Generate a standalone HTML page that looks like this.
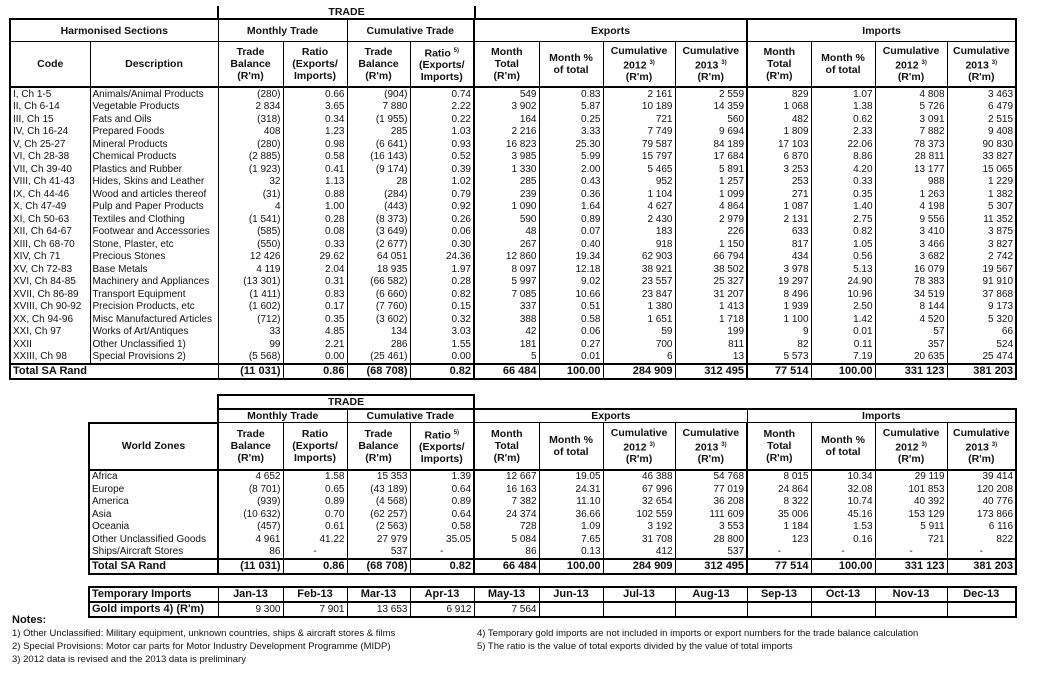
<!DOCTYPE html>
<html><head><meta charset="utf-8"><style>
body{margin:0;width:1039px;height:680px;background:#fff;position:relative;overflow:hidden;font-family:"Liberation Sans",Arial,sans-serif;color:#111}
table{position:absolute;border-collapse:collapse;table-layout:fixed;font-size:10px}
td{border-left:1px solid #000;border-right:1px solid #000;padding:0 2px;text-align:right;white-space:nowrap;overflow:hidden;line-height:11px}
td.l{text-align:left}
tr.d td{height:12.5px;padding-top:0;padding-bottom:0}
tr.h td,tr.s td{font-weight:bold;text-align:center;border:1px solid #000;font-size:10.5px;line-height:12px}
tr.h td{border-bottom:2px solid #000}
tr.t td{font-weight:bold;font-size:11px;border-top:2px solid #000;border-bottom:2px solid #000;height:13px}
td.n{border:none!important}
.thick{border-left:2px solid #000!important}
.abs{position:absolute}
.note{position:absolute;font-size:9.5px;left:12px}
sup{font-size:6px}
</style></head><body>

<div class="abs" style="left:217px;top:6px;width:255px;height:12px;border-left:2px solid #000;border-right:2px solid #000;text-align:center;font-weight:bold;font-size:10.5px;line-height:12px">TRADE</div>

<table style="left:9px;top:18px;width:1006px;border:2px solid #000">
<colgroup><col style="width:80px"><col style="width:128px"><col style="width:65px"><col style="width:64px"><col style="width:63px"><col style="width:64px"><col style="width:65px"><col style="width:64px"><col style="width:72px"><col style="width:72px"><col style="width:64px"><col style="width:64px"><col style="width:72px"><col style="width:69px"></colgroup>
<tr class="s"><td colspan="2" style="height:21px">Harmonised Sections</td><td colspan="2">Monthly Trade</td><td colspan="2">Cumulative Trade</td><td colspan="4" class="thick">Exports</td><td colspan="4" class="thick">Imports</td></tr>
<tr class="h"><td style="height:44px">Code</td><td>Description</td><td>Trade<br>Balance<br>(R'm)</td><td>Ratio<br>(Exports/<br>Imports)</td><td>Trade<br>Balance<br>(R'm)</td><td>Ratio <sup>5)</sup><br>(Exports/<br>Imports)</td><td class="thick">Month<br>Total<br>(R'm)</td><td>Month %<br>of total</td><td>Cumulative<br>2012 <sup>3)</sup><br>(R'm)</td><td>Cumulative<br>2013 <sup>3)</sup><br>(R'm)</td><td class="thick">Month<br>Total<br>(R'm)</td><td>Month %<br>of total</td><td>Cumulative<br>2012 <sup>3)</sup><br>(R'm)</td><td>Cumulative<br>2013 <sup>3)</sup><br>(R'm)</td></tr>
<tr class="d"><td class="l">I, Ch 1-5</td><td class="l">Animals/Animal Products</td><td>(280)</td><td>0.66</td><td>(904)</td><td>0.74</td><td class="thick">549</td><td>0.83</td><td>2 161</td><td>2 559</td><td class="thick">829</td><td>1.07</td><td>4 808</td><td>3 463</td></tr>
<tr class="d"><td class="l">II, Ch 6-14</td><td class="l">Vegetable Products</td><td>2 834</td><td>3.65</td><td>7 880</td><td>2.22</td><td class="thick">3 902</td><td>5.87</td><td>10 189</td><td>14 359</td><td class="thick">1 068</td><td>1.38</td><td>5 726</td><td>6 479</td></tr>
<tr class="d"><td class="l">III, Ch 15</td><td class="l">Fats and Oils</td><td>(318)</td><td>0.34</td><td>(1 955)</td><td>0.22</td><td class="thick">164</td><td>0.25</td><td>721</td><td>560</td><td class="thick">482</td><td>0.62</td><td>3 091</td><td>2 515</td></tr>
<tr class="d"><td class="l">IV, Ch 16-24</td><td class="l">Prepared Foods</td><td>408</td><td>1.23</td><td>285</td><td>1.03</td><td class="thick">2 216</td><td>3.33</td><td>7 749</td><td>9 694</td><td class="thick">1 809</td><td>2.33</td><td>7 882</td><td>9 408</td></tr>
<tr class="d"><td class="l">V, Ch 25-27</td><td class="l">Mineral Products</td><td>(280)</td><td>0.98</td><td>(6 641)</td><td>0.93</td><td class="thick">16 823</td><td>25.30</td><td>79 587</td><td>84 189</td><td class="thick">17 103</td><td>22.06</td><td>78 373</td><td>90 830</td></tr>
<tr class="d"><td class="l">VI, Ch 28-38</td><td class="l">Chemical Products</td><td>(2 885)</td><td>0.58</td><td>(16 143)</td><td>0.52</td><td class="thick">3 985</td><td>5.99</td><td>15 797</td><td>17 684</td><td class="thick">6 870</td><td>8.86</td><td>28 811</td><td>33 827</td></tr>
<tr class="d"><td class="l">VII, Ch 39-40</td><td class="l">Plastics and Rubber</td><td>(1 923)</td><td>0.41</td><td>(9 174)</td><td>0.39</td><td class="thick">1 330</td><td>2.00</td><td>5 465</td><td>5 891</td><td class="thick">3 253</td><td>4.20</td><td>13 177</td><td>15 065</td></tr>
<tr class="d"><td class="l">VIII, Ch 41-43</td><td class="l">Hides, Skins and Leather</td><td>32</td><td>1.13</td><td>28</td><td>1.02</td><td class="thick">285</td><td>0.43</td><td>952</td><td>1 257</td><td class="thick">253</td><td>0.33</td><td>988</td><td>1 229</td></tr>
<tr class="d"><td class="l">IX, Ch 44-46</td><td class="l">Wood and articles thereof</td><td>(31)</td><td>0.88</td><td>(284)</td><td>0.79</td><td class="thick">239</td><td>0.36</td><td>1 104</td><td>1 099</td><td class="thick">271</td><td>0.35</td><td>1 263</td><td>1 382</td></tr>
<tr class="d"><td class="l">X, Ch 47-49</td><td class="l">Pulp and Paper Products</td><td>4</td><td>1.00</td><td>(443)</td><td>0.92</td><td class="thick">1 090</td><td>1.64</td><td>4 627</td><td>4 864</td><td class="thick">1 087</td><td>1.40</td><td>4 198</td><td>5 307</td></tr>
<tr class="d"><td class="l">XI, Ch 50-63</td><td class="l">Textiles and Clothing</td><td>(1 541)</td><td>0.28</td><td>(8 373)</td><td>0.26</td><td class="thick">590</td><td>0.89</td><td>2 430</td><td>2 979</td><td class="thick">2 131</td><td>2.75</td><td>9 556</td><td>11 352</td></tr>
<tr class="d"><td class="l">XII, Ch 64-67</td><td class="l">Footwear and Accessories</td><td>(585)</td><td>0.08</td><td>(3 649)</td><td>0.06</td><td class="thick">48</td><td>0.07</td><td>183</td><td>226</td><td class="thick">633</td><td>0.82</td><td>3 410</td><td>3 875</td></tr>
<tr class="d"><td class="l">XIII, Ch 68-70</td><td class="l">Stone, Plaster, etc</td><td>(550)</td><td>0.33</td><td>(2 677)</td><td>0.30</td><td class="thick">267</td><td>0.40</td><td>918</td><td>1 150</td><td class="thick">817</td><td>1.05</td><td>3 466</td><td>3 827</td></tr>
<tr class="d"><td class="l">XIV, Ch 71</td><td class="l">Precious Stones</td><td>12 426</td><td>29.62</td><td>64 051</td><td>24.36</td><td class="thick">12 860</td><td>19.34</td><td>62 903</td><td>66 794</td><td class="thick">434</td><td>0.56</td><td>3 682</td><td>2 742</td></tr>
<tr class="d"><td class="l">XV, Ch 72-83</td><td class="l">Base Metals</td><td>4 119</td><td>2.04</td><td>18 935</td><td>1.97</td><td class="thick">8 097</td><td>12.18</td><td>38 921</td><td>38 502</td><td class="thick">3 978</td><td>5.13</td><td>16 079</td><td>19 567</td></tr>
<tr class="d"><td class="l">XVI, Ch 84-85</td><td class="l">Machinery and Appliances</td><td>(13 301)</td><td>0.31</td><td>(66 582)</td><td>0.28</td><td class="thick">5 997</td><td>9.02</td><td>23 557</td><td>25 327</td><td class="thick">19 297</td><td>24.90</td><td>78 383</td><td>91 910</td></tr>
<tr class="d"><td class="l">XVII, Ch 86-89</td><td class="l">Transport Equipment</td><td>(1 411)</td><td>0.83</td><td>(6 660)</td><td>0.82</td><td class="thick">7 085</td><td>10.66</td><td>23 847</td><td>31 207</td><td class="thick">8 496</td><td>10.96</td><td>34 519</td><td>37 868</td></tr>
<tr class="d"><td class="l">XVIII, Ch 90-92</td><td class="l">Precision Products, etc</td><td>(1 602)</td><td>0.17</td><td>(7 760)</td><td>0.15</td><td class="thick">337</td><td>0.51</td><td>1 380</td><td>1 413</td><td class="thick">1 939</td><td>2.50</td><td>8 144</td><td>9 173</td></tr>
<tr class="d"><td class="l">XX, Ch 94-96</td><td class="l">Misc Manufactured Articles</td><td>(712)</td><td>0.35</td><td>(3 602)</td><td>0.32</td><td class="thick">388</td><td>0.58</td><td>1 651</td><td>1 718</td><td class="thick">1 100</td><td>1.42</td><td>4 520</td><td>5 320</td></tr>
<tr class="d"><td class="l">XXI, Ch 97</td><td class="l">Works of Art/Antiques</td><td>33</td><td>4.85</td><td>134</td><td>3.03</td><td class="thick">42</td><td>0.06</td><td>59</td><td>199</td><td class="thick">9</td><td>0.01</td><td>57</td><td>66</td></tr>
<tr class="d"><td class="l">XXII</td><td class="l">Other Unclassified 1)</td><td>99</td><td>2.21</td><td>286</td><td>1.55</td><td class="thick">181</td><td>0.27</td><td>700</td><td>811</td><td class="thick">82</td><td>0.11</td><td>357</td><td>524</td></tr>
<tr class="d"><td class="l">XXIII, Ch 98</td><td class="l">Special Provisions 2)</td><td>(5 568)</td><td>0.00</td><td>(25 461)</td><td>0.00</td><td class="thick">5</td><td>0.01</td><td>6</td><td>13</td><td class="thick">5 573</td><td>7.19</td><td>20 635</td><td>25 474</td></tr>
<tr class="t"><td class="l" colspan="2">Total SA Rand</td><td>(11 031)</td><td>0.86</td><td>(68 708)</td><td>0.82</td><td class="thick">66 484</td><td>100.00</td><td>284 909</td><td>312 495</td><td class="thick">77 514</td><td>100.00</td><td>331 123</td><td>381 203</td></tr>
</table>

<table style="left:88px;top:394px;width:927px">
<colgroup><col style="width:129px"><col style="width:65px"><col style="width:64px"><col style="width:63px"><col style="width:64px"><col style="width:65px"><col style="width:64px"><col style="width:72px"><col style="width:72px"><col style="width:64px"><col style="width:64px"><col style="width:72px"><col style="width:69px"></colgroup>
<tr class="s"><td class="n" style="height:12px"></td><td colspan="4" style="border:2px solid #000">TRADE</td><td class="n" colspan="8"></td></tr>
<tr class="s"><td class="n" style="height:12px"></td><td colspan="2" style="border-left:2px solid #000">Monthly Trade</td><td colspan="2" style="border-right:2px solid #000">Cumulative Trade</td><td colspan="4" style="border-top:2px solid #000">Exports</td><td colspan="4" style="border-top:2px solid #000;border-right:2px solid #000">Imports</td></tr>
<tr class="h"><td style="height:45px;border-left:2px solid #000;border-top:2px solid #000">World Zones</td><td style="border-left:2px solid #000">Trade<br>Balance<br>(R'm)</td><td>Ratio<br>(Exports/<br>Imports)</td><td>Trade<br>Balance<br>(R'm)</td><td>Ratio <sup>5)</sup><br>(Exports/<br>Imports)</td><td class="thick">Month<br>Total<br>(R'm)</td><td>Month %<br>of total</td><td>Cumulative<br>2012 <sup>3)</sup><br>(R'm)</td><td>Cumulative<br>2013 <sup>3)</sup><br>(R'm)</td><td class="thick">Month<br>Total<br>(R'm)</td><td>Month %<br>of total</td><td>Cumulative<br>2012 <sup>3)</sup><br>(R'm)</td><td style="border-right:2px solid #000">Cumulative<br>2013 <sup>3)</sup><br>(R'm)</td></tr>
<tr class="d"><td class="l" style="border-left:2px solid #000">Africa</td><td style="border-left:2px solid #000">4 652</td><td>1.58</td><td>15 353</td><td>1.39</td><td class="thick">12 667</td><td>19.05</td><td>46 388</td><td>54 768</td><td class="thick">8 015</td><td>10.34</td><td>29 119</td><td style="border-right:2px solid #000">39 414</td></tr>
<tr class="d"><td class="l" style="border-left:2px solid #000">Europe</td><td style="border-left:2px solid #000">(8 701)</td><td>0.65</td><td>(43 189)</td><td>0.64</td><td class="thick">16 163</td><td>24.31</td><td>67 996</td><td>77 019</td><td class="thick">24 864</td><td>32.08</td><td>101 853</td><td style="border-right:2px solid #000">120 208</td></tr>
<tr class="d"><td class="l" style="border-left:2px solid #000">America</td><td style="border-left:2px solid #000">(939)</td><td>0.89</td><td>(4 568)</td><td>0.89</td><td class="thick">7 382</td><td>11.10</td><td>32 654</td><td>36 208</td><td class="thick">8 322</td><td>10.74</td><td>40 392</td><td style="border-right:2px solid #000">40 776</td></tr>
<tr class="d"><td class="l" style="border-left:2px solid #000">Asia</td><td style="border-left:2px solid #000">(10 632)</td><td>0.70</td><td>(62 257)</td><td>0.64</td><td class="thick">24 374</td><td>36.66</td><td>102 559</td><td>111 609</td><td class="thick">35 006</td><td>45.16</td><td>153 129</td><td style="border-right:2px solid #000">173 866</td></tr>
<tr class="d"><td class="l" style="border-left:2px solid #000">Oceania</td><td style="border-left:2px solid #000">(457)</td><td>0.61</td><td>(2 563)</td><td>0.58</td><td class="thick">728</td><td>1.09</td><td>3 192</td><td>3 553</td><td class="thick">1 184</td><td>1.53</td><td>5 911</td><td style="border-right:2px solid #000">6 116</td></tr>
<tr class="d"><td class="l" style="border-left:2px solid #000">Other Unclassified Goods</td><td style="border-left:2px solid #000">4 961</td><td>41.22</td><td>27 979</td><td>35.05</td><td class="thick">5 084</td><td>7.65</td><td>31 708</td><td>28 800</td><td class="thick">123</td><td>0.16</td><td>721</td><td style="border-right:2px solid #000">822</td></tr>
<tr class="d"><td class="l" style="border-left:2px solid #000">Ships/Aircraft Stores</td><td style="border-left:2px solid #000">86</td><td style="text-align:center">-</td><td>537</td><td style="text-align:center">-</td><td class="thick">86</td><td>0.13</td><td>412</td><td>537</td><td class="thick" style="text-align:center">-</td><td style="text-align:center">-</td><td style="text-align:center">-</td><td style="border-right:2px solid #000;text-align:center">-</td></tr>
<tr class="t"><td class="l" style="border-left:2px solid #000">Total SA Rand</td><td style="border-left:2px solid #000">(11 031)</td><td>0.86</td><td>(68 708)</td><td>0.82</td><td class="thick">66 484</td><td>100.00</td><td>284 909</td><td>312 495</td><td class="thick">77 514</td><td>100.00</td><td>331 123</td><td style="border-right:2px solid #000">381 203</td></tr>
</table>

<table style="left:88px;top:586px;width:927px;border:2px solid #000">
<colgroup><col style="width:129px"><col style="width:65px"><col style="width:64px"><col style="width:63px"><col style="width:64px"><col style="width:65px"><col style="width:64px"><col style="width:72px"><col style="width:72px"><col style="width:64px"><col style="width:64px"><col style="width:72px"><col style="width:69px"></colgroup>
<tr class="t" style="font-size:11px"><td class="l" style="border-top:0;height:12px">Temporary Imports</td><td style="text-align:center">Jan-13</td><td style="text-align:center">Feb-13</td><td style="text-align:center">Mar-13</td><td style="text-align:center">Apr-13</td><td style="text-align:center">May-13</td><td style="text-align:center">Jun-13</td><td style="text-align:center">Jul-13</td><td style="text-align:center">Aug-13</td><td style="text-align:center">Sep-13</td><td style="text-align:center">Oct-13</td><td style="text-align:center">Nov-13</td><td style="text-align:center">Dec-13</td></tr>
<tr class="d"><td class="l" style="font-weight:bold;font-size:11px;height:12px">Gold imports 4) (R'm)</td><td>9 300</td><td>7 901</td><td>13 653</td><td>6 912</td><td>7 564</td><td></td><td></td><td></td><td></td><td></td><td></td><td></td></tr>
</table>

<div class="abs" style="left:12px;top:614px;font-weight:bold;font-size:11px">Notes:</div>
<div class="note" style="top:628px">1) Other Unclassified: Military equipment, unknown countries, ships &amp; aircraft stores &amp; films</div>
<div class="note" style="top:641px">2) Special Provisions: Motor car parts for Motor Industry Development Programme (MIDP)</div>
<div class="note" style="top:654px">3) 2012 data is revised and the 2013 data is preliminary</div>
<div class="note" style="left:477px;top:628px">4) Temporary gold imports are not included in imports or export numbers for the trade balance calculation</div>
<div class="note" style="left:477px;top:641px">5) The ratio is the value of total exports divided by the value of total imports</div>
</body></html>
